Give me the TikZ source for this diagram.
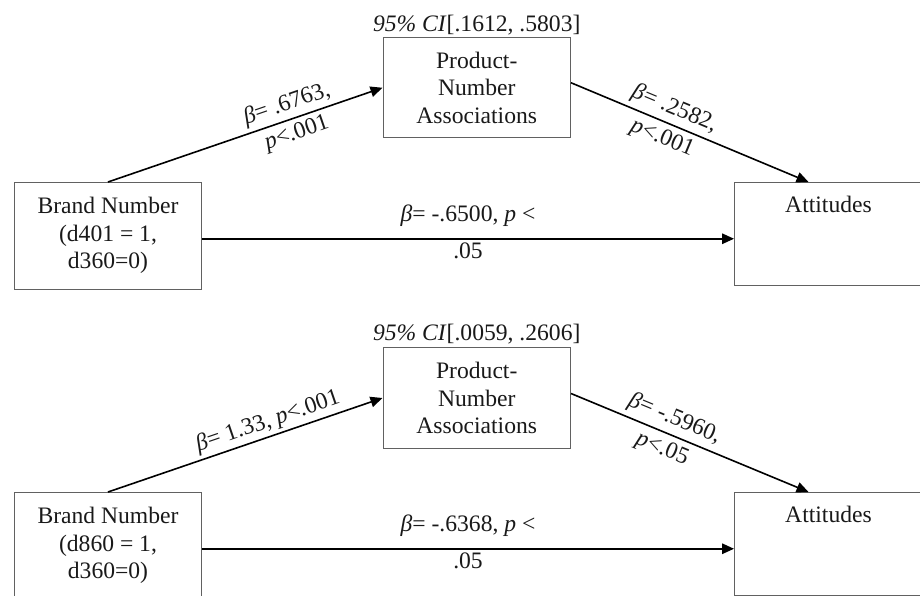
\documentclass[tikz,border=0pt]{standalone}
\usepackage{fontspec}
\setmainfont{Liberation Serif}
\usetikzlibrary{arrows.meta}
\begin{document}
\begin{tikzpicture}[x=1pt,y=-1pt,
  every node/.style={font=\fontsize{23.6}{27.5}\selectfont, text=black!90},
  box/.style={draw=black!62, line width=1pt, anchor=north west, inner sep=0pt, align=center},
  conn/.style={draw=black, line width=1.6pt, -{Triangle[length=12pt,width=10.5pt]}},
  lab/.style={align=center, inner sep=1pt}]
\clip (0,0) rectangle (920,596);
% ---------- top model ----------
\node[box, minimum width=187pt, minimum height=106.5pt] (b1) at (14,182) {Brand Number\\(d401 = 1,\\d360=0)};
\node[box, minimum width=187.5pt, minimum height=100.5pt] (p1) at (382.5,37) {Product-\\Number\\Associations};
\node[box, minimum width=188pt, minimum height=103pt, inner ysep=8pt, text height=22pt, text depth=65pt] (a1) at (734,182) {Attitudes};
\node[anchor=base] (ci1) at ([yshift=5pt]p1.north) {\textit{95\% CI}[.1612, .5803]};
\draw[conn] (b1.north) -- node[lab, sloped, pos=0.67] {{\itshape β}= .6763,\\[3pt]{\itshape p}<.001} (p1.west);
\draw[conn] ([yshift=5pt]p1.east) -- node[lab, sloped, pos=0.41] {{\itshape β}= .2582,\\[4pt]{\itshape p}<.001} ([xshift=-20pt]a1.north);
\coordinate (h1) at ([yshift=-3pt]b1.east);
\draw[conn] (h1) -- node[lab, yshift=7pt] {{\itshape β}= -.6500, {\itshape p} <\\[9pt].05} (h1 -| a1.west);
% ---------- bottom model ----------
\node[box, minimum width=187pt, minimum height=106.5pt] (b2) at (14,492) {Brand Number\\(d860 = 1,\\d360=0)};
\node[box, minimum width=187.5pt, minimum height=101pt] (p2) at (382.5,347) {Product-\\Number\\Associations};
\node[box, minimum width=188pt, minimum height=103pt, inner ysep=8pt, text height=22pt, text depth=65pt] (a2) at (734,492) {Attitudes};
\node[anchor=base] (ci2) at ([yshift=6.5pt]p2.north) {\textit{95\% CI}[.0059, .2606]};
\draw[conn] (b2.north) -- node[lab, sloped, above=2pt, pos=0.6] {{\itshape β}= 1.33, {\itshape p}<.001} (p2.west);
\draw[conn] ([yshift=4.5pt]p2.east) -- node[lab, sloped, pos=0.41] {{\itshape β}= -.5960,\\[5pt]{\itshape p}<.05} ([xshift=-20pt]a2.north);
\coordinate (h2) at ([yshift=-3pt]b2.east);
\draw[conn] (h2) -- node[lab, yshift=7pt] {{\itshape β}= -.6368, {\itshape p} <\\[9pt].05} (h2 -| a2.west);
\end{tikzpicture}
\end{document}
